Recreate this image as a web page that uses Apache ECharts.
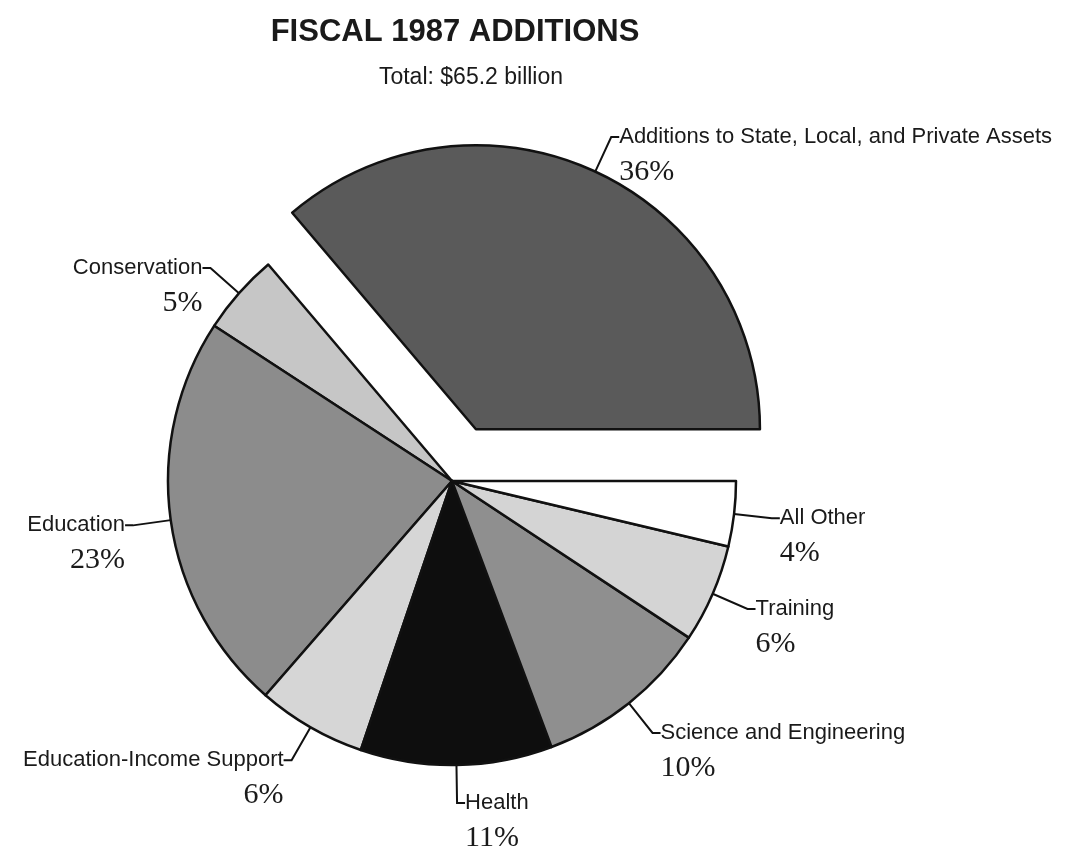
<!DOCTYPE html>
<html>
<head>
<meta charset="utf-8">
<script src="https://cdn.jsdelivr.net/npm/echarts@6/dist/echarts.min.js"></script>
<style>
  html, body { margin: 0; padding: 0; background: #fff; }
  #chart { width: 1069px; height: 852px; }
</style>
</head>
<body>
<div id="chart"></div>
<script>
// slices, counter-clockwise from 3 o'clock
const categories = [
  'Additions to State, Local, and Private Assets',
  'Conservation',
  'Education',
  'Education-Income Support',
  'Health',
  'Science and Engineering',
  'Training',
  'All Other'
];
// shares in percent, measured from the slice angles (labels show them rounded)
const shares = [36.2, 4.6, 22.8, 6.2, 10.9, 10.0, 5.6, 3.7];
const fills = ['#5a5a5a', '#c6c6c6', '#8c8c8c', '#d6d6d6', '#0e0e0e', '#8f8f8f', '#d4d4d4', '#ffffff'];
const explodedIndex = 0;

const chart = echarts.init(document.getElementById('chart'));

const data = categories.map((name, i) => ({
  name: name,
  value: shares[i],
  selected: i === explodedIndex,
  itemStyle: { color: fills[i] }
}));

const sans = 'Liberation Sans, Arial, sans-serif';

const option = {
  backgroundColor: '#ffffff',
  animation: false,
  title: [{
    text: 'FISCAL 1987 ADDITIONS',
    left: 450,
    top: 12,
    textAlign: 'center',
    textStyle: { fontFamily: sans, fontWeight: 'bold', fontSize: 31, color: '#1a1a1a' }
  }, {
    text: 'Total: $65.2 billion',
    left: 466,
    top: 61,
    textAlign: 'center',
    textStyle: { fontFamily: sans, fontWeight: 'normal', fontSize: 23, color: '#1a1a1a' }
  }],
  series: [{
    type: 'pie',
    center: [452, 481],
    radius: 284,
    startAngle: 0,
    clockwise: false,
    selectedMode: 'single',
    selectedOffset: 57,
    avoidLabelOverlap: false,
    // v6 hides overlapping label boxes by default; the tall two-line boxes touch
    labelLayout: { hideOverlap: false },
    itemStyle: { borderColor: '#111', borderWidth: 2.5 },
    emphasis: { disabled: true },
    label: {
      show: true,
      position: 'outside',
      distanceToLabelLine: 0,
      bleedMargin: 0,
      formatter: p => '{gap|}\n{name|' + p.name + '}\n{pct|' + Math.round(p.value) + '%}',
      rich: {
        gap: { lineHeight: 46, fontSize: 10 },
        name: { fontFamily: sans, fontSize: 22, lineHeight: 24, color: '#1a1a1a' },
        pct: {
          fontFamily: 'Liberation Serif, Times New Roman, serif',
          fontSize: 30,
          lineHeight: 46,
          color: '#1a1a1a'
        }
      }
    },
    labelLine: {
      show: true,
      length: 38,
      length2: 8,
      lineStyle: { color: '#111', width: 2 }
    },
    data: data
  }]
};

chart.setOption(option);
</script>
</body>
</html>
